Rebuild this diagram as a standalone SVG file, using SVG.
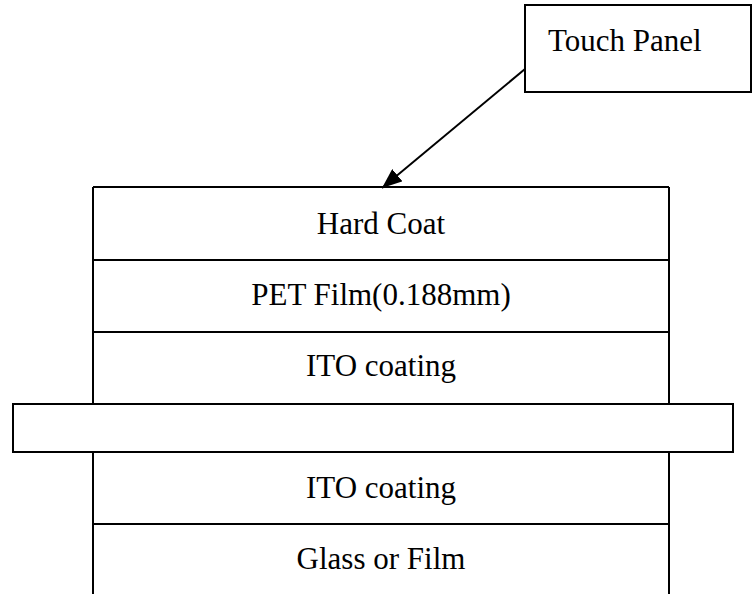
<svg xmlns="http://www.w3.org/2000/svg" width="755" height="594" viewBox="0 0 755 594">
<style>
.ln{stroke:#000;stroke-width:2;fill:none}
.box{stroke:#000;stroke-width:2;fill:#fff}
.t{font-family:"Liberation Serif","Times New Roman",serif;font-size:31px;fill:#000}
.c{text-anchor:middle}
</style>
<defs>
<marker id="ah" markerUnits="userSpaceOnUse" markerWidth="20" markerHeight="16" viewBox="0 0 20 16" refX="20" refY="8" orient="auto">
<path d="M0,0 L20,8 L0,16 Z" fill="#000"/>
</marker>
</defs>
<rect width="755" height="594" fill="#fff"/>
<g id="stack">
<path class="ln" d="M93,187 H669 M93,187 V404 M669,187 V404 M93,260 H669 M93,332 H669 M93,452 V594 M669,452 V594 M93,524 H669"/>
</g>
<g id="hard-coat"><text class="t c" x="381" y="234">Hard Coat</text></g>
<g id="pet-film"><text class="t c" x="381" y="305">PET Film(0.188mm)</text></g>
<g id="ito-top"><text class="t c" x="381" y="376">ITO coating</text></g>
<g id="spacer"><rect class="box" x="13" y="404" width="720" height="48"/></g>
<g id="ito-bottom"><text class="t c" x="381" y="498">ITO coating</text></g>
<g id="glass"><text class="t c" x="381" y="569">Glass or Film</text></g>
<g id="touch-panel">
<rect class="box" x="525" y="5" width="226" height="87"/>
<text class="t" x="548" y="51">Touch Panel</text>
</g>
<g id="connectors">
<line class="ln" x1="525" y1="69" x2="382" y2="188" marker-end="url(#ah)"/>
</g>
</svg>
